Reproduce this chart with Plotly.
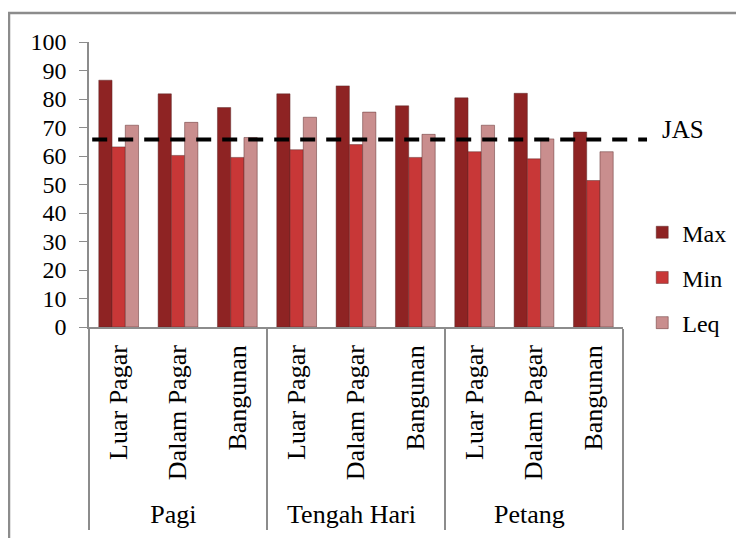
import plotly.graph_objects as go

groups = ["Pagi", "Tengah Hari", "Petang"]
locations = ["Luar Pagar", "Dalam Pagar", "Bangunan"]
max_vals = [86.6, 81.8, 77.0, 81.8, 84.6, 77.6, 80.4, 82.0, 68.4]
min_vals = [63.2, 60.2, 59.5, 62.2, 64.0, 59.5, 61.5, 59.0, 51.4]
leq_vals = [70.8, 71.8, 66.5, 73.6, 75.4, 67.6, 70.8, 66.0, 61.5]
jas_value = 65.8
y_ticks = [0, 10, 20, 30, 40, 50, 60, 70, 80, 90, 100]

x_outer = [g for g in groups for _ in locations]
x_inner = [l for _ in groups for l in locations]

FONT = "Liberation Serif, Times New Roman, serif"

fig = go.Figure()
series = [("Max", max_vals, "#8e2323"), ("Min", min_vals, "#c83737"), ("Leq", leq_vals, "#c98e8e")]
for name, vals, col in series:
    fig.add_trace(go.Bar(
        x=[x_outer, x_inner], y=vals, name=name, legendgroup=name,
        marker=dict(color=col, line=dict(color="rgba(90,40,40,0.6)", width=0.8)),
    ))

fig.update_layout(
    width=744, height=538,
    margin=dict(l=81, r=129, t=34, b=219),
    paper_bgcolor="white", plot_bgcolor="white",
    barmode="group", bargap=0.33, bargroupgap=0,
    font=dict(family=FONT, size=24, color="black"),
    showlegend=True,
    legend=dict(x=1.036, y=0.41, xanchor="left", yanchor="top",
                font=dict(family=FONT, size=24, color="black"),
                traceorder="grouped", tracegroupgap=11,
                bgcolor="rgba(0,0,0,0)"),
)
fig.update_yaxes(range=[0, 100], tickvals=y_ticks, showgrid=False,
                 showline=True, linecolor="#8c8c8c", linewidth=1.5,
                 ticks="outside", ticklen=8, tickcolor="#8c8c8c",
                 ticklabelstandoff=8,
                 tickfont=dict(family=FONT, size=24, color="black"), zeroline=False)
fig.update_xaxes(type="multicategory", showline=True, linecolor="#8c8c8c", linewidth=1.5,
                 tickangle=-90, tickfont=dict(family=FONT, size=26, color="black"),
                 ticklabelstandoff=6,
                 showdividers=True, dividercolor="#8c8c8c", dividerwidth=1.5, ticks="")

# JAS reference line
fig.add_shape(type="line", xref="paper", yref="y", x0=0.006, x1=1.045,
              y0=jas_value, y1=jas_value,
              line=dict(color="black", width=4, dash="15px,11px"))
fig.add_annotation(text="JAS", xref="paper", yref="y", x=1.07, y=jas_value,
                   xanchor="left", yanchor="middle", yshift=10, showarrow=False,
                   font=dict(family=FONT, size=25, color="black"))

# outer chart border
fig.add_shape(type="rect", xref="paper", yref="paper", x0=-0.1498, x1=1.5,
              y0=-1.0, y1=1.1018, line=dict(color="#8c8c8c", width=2.5), layer="below")

fig.write_html("out.html")
